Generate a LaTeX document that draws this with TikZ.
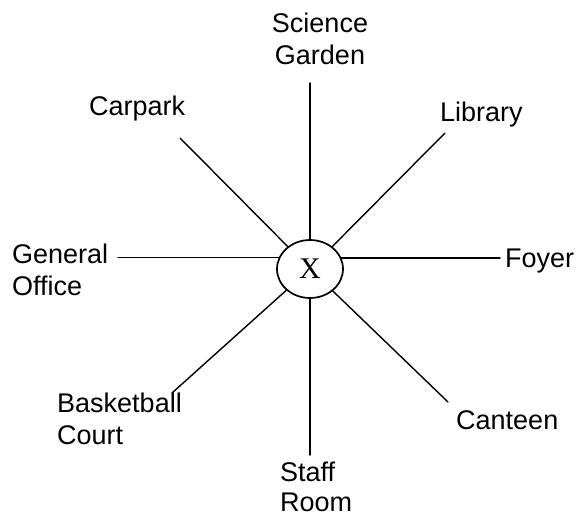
\documentclass[tikz,border=0pt]{standalone}
\usepackage{fontspec}
\setmainfont{Liberation Sans}
\newfontfamily\xserif{Liberation Serif}
\usetikzlibrary{shapes.geometric}
\begin{document}
\begin{tikzpicture}[x=1pt,y=-1pt,
  lbl/.style={inner sep=0pt,font=\fontsize{27}{32}\selectfont},
  spoke/.style={line width=1.4pt,line cap=round},
  hub/.style={ellipse,draw,line width=1.7pt,minimum width=66pt,minimum height=58pt,inner sep=0pt,font=\xserif\fontsize{30}{30}\selectfont}]
\useasboundingbox (0,0) rectangle (579,520);
% centre
\node[hub] (x) at (310,269) {X};
% labels
\node[lbl,anchor=north,align=center] (sg) at (320,13) {Science\\Garden};
\node[lbl,anchor=base west] (car) at (89,115) {Carpark};
\node[lbl,anchor=base west] (lib) at (440,121) {Library};
\node[lbl,anchor=north west,align=left] (go) at (12,244) {General\\Office};
\node[lbl,anchor=base west] (foy) at (505,267) {Foyer};
\node[lbl,anchor=north west,align=left] (bc) at (57,393) {Basketball\\Court};
\node[lbl,anchor=base west] (can) at (456,429) {Canteen};
\node[lbl,anchor=north west,align=left,font=\fontsize{27}{30}\selectfont] (sr) at (280,462) {Staff\\Room};
% free ends of the spokes
\coordinate (sgend) at (310,83);
\coordinate (libend) at (445,133);
\coordinate (carend) at (180,138);
\coordinate (goend) at (118,258);
\coordinate (foyend) at (500,258);
\coordinate (bcend) at (172,393);
\coordinate (canend) at (448,402);
\coordinate (srend) at (310,455);
% spokes
\draw[spoke] (x.90) -- (sgend);
\draw[spoke] (x) -- (libend);
\draw[spoke] (x) -- (carend);
\draw[spoke] (x.160) -- (x.160 -| goend);
\draw[spoke] (x.19) -- (x.19 -| foyend);
\draw[spoke] (x) -- (bcend);
\draw[spoke] (x) -- (canend);
\draw[spoke] (x.270) -- (srend);
\end{tikzpicture}
\end{document}
